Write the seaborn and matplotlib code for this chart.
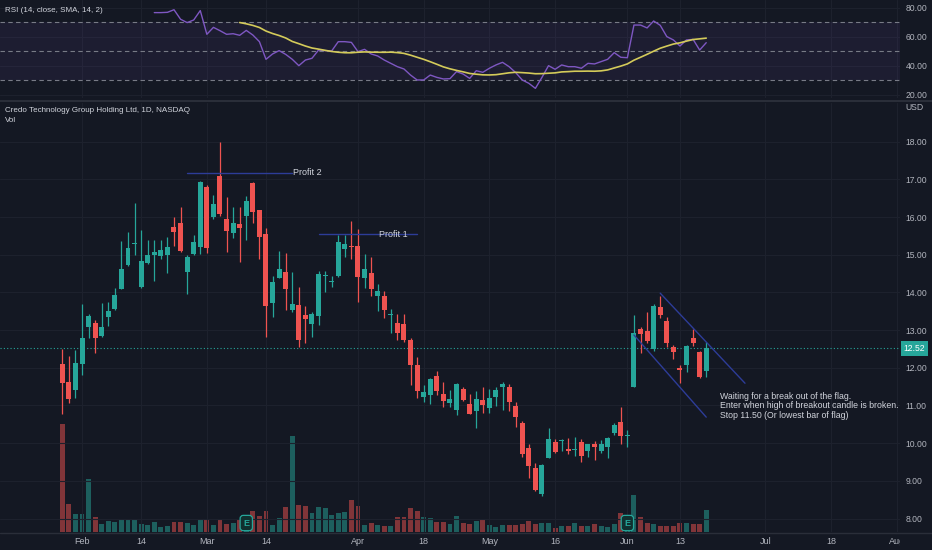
import numpy as np
import pandas as pd
import matplotlib.pyplot as plt
import seaborn as sns
from matplotlib.lines import Line2D
from matplotlib.transforms import Bbox, TransformedBbox, blended_transform_factory

# ---- data ----
holidays = ['2022-02-21', '2022-04-15', '2022-05-30', '2022-06-20', '2022-07-04']
calendar = pd.bdate_range('2022-01-27', '2022-08-05')
calendar = calendar[~calendar.isin(pd.to_datetime(holidays))]
dates = calendar[calendar <= '2022-06-17']

opens = [12.10, 11.62, 11.41, 12.10, 13.07, 13.20, 12.84, 13.36, 13.55, 14.10,
         14.72, 15.29, 14.15, 14.77, 14.98, 14.97, 14.98, 15.73, 15.85, 14.55,
         15.01, 15.21, 16.79, 15.99, 17.09, 15.94, 15.57, 15.82, 16.03, 16.91,
         16.19, 15.54, 13.71, 14.39, 14.53, 13.54, 13.67, 13.39, 13.16, 13.38,
         14.43, 14.27, 14.44, 15.15, 15.24, 15.23, 14.37, 14.51, 13.90, 13.90,
         13.41, 13.18, 13.16, 12.75, 12.07, 11.23, 11.28, 11.78, 11.30, 11.07,
         10.88, 11.45, 11.04, 10.86, 11.14, 10.94, 11.23, 11.48, 11.48, 10.99,
         10.53, 9.86, 9.35, 8.65, 9.61, 10.02, 10.05, 9.84, 9.82, 10.03,
         9.79, 9.97, 9.79, 9.89, 10.26, 10.55, 10.20, 11.48, 13.03, 12.98,
         12.50, 13.60, 13.25, 12.54, 11.99, 12.07, 12.78, 12.41, 11.92]
highs = [12.50, 12.31, 12.47, 13.69, 13.43, 13.27, 13.73, 13.74, 14.11, 15.36,
         15.61, 16.38, 15.66, 15.39, 15.39, 15.39, 15.46, 15.99, 16.26, 14.98,
         15.52, 16.97, 16.85, 16.58, 18.00, 16.54, 16.26, 16.26, 16.56, 16.94,
         16.20, 15.70, 14.43, 15.10, 15.05, 14.53, 14.15, 13.64, 13.49, 14.57,
         14.58, 14.44, 15.52, 15.52, 15.90, 15.67, 15.02, 14.95, 14.22, 14.05,
         13.57, 13.44, 13.43, 12.80, 12.28, 11.54, 11.72, 11.91, 11.61, 11.41,
         11.59, 11.48, 11.30, 11.38, 11.50, 11.45, 11.50, 11.61, 11.57, 11.10,
         10.60, 9.99, 9.46, 9.45, 10.39, 10.11, 10.10, 10.13, 10.15, 10.10,
         9.99, 10.06, 10.08, 10.17, 10.53, 10.95, 10.35, 13.40, 13.09, 13.47,
         13.69, 13.91, 13.34, 12.60, 12.07, 12.60, 13.03, 12.45, 12.68]
lows = [10.77, 11.06, 11.19, 11.81, 12.78, 12.38, 12.83, 13.11, 13.53, 14.08,
        14.69, 15.00, 14.13, 14.75, 14.31, 14.88, 14.52, 15.23, 15.08, 13.96,
        14.99, 15.02, 15.05, 15.96, 16.03, 15.08, 15.44, 14.82, 15.39, 15.83,
        14.90, 12.83, 13.34, 14.37, 13.54, 13.49, 12.56, 12.65, 12.83, 13.13,
        14.02, 14.15, 14.42, 14.95, 14.88, 13.75, 14.11, 13.90, 13.51, 13.31,
        12.93, 12.74, 12.69, 11.54, 11.19, 11.10, 11.04, 11.28, 10.95, 10.97,
        10.75, 11.13, 10.77, 10.41, 10.81, 10.79, 10.99, 10.88, 10.84, 10.42,
        9.64, 9.07, 8.74, 8.61, 9.61, 9.73, 9.80, 9.71, 9.67, 9.49,
        9.64, 9.54, 9.75, 9.60, 10.22, 9.98, 9.91, 11.48, 12.38, 12.65,
        12.45, 13.31, 12.54, 12.22, 11.60, 11.90, 12.59, 11.72, 11.75]
closes = [11.60, 11.16, 12.12, 12.79, 13.38, 12.79, 13.07, 13.52, 13.92, 14.63,
          15.19, 15.30, 14.84, 14.98, 15.07, 15.13, 15.20, 15.60, 15.10, 14.93,
          15.33, 16.92, 15.19, 16.35, 16.07, 15.64, 15.83, 15.72, 16.43, 16.14,
          15.48, 13.65, 14.28, 14.61, 14.09, 13.69, 12.74, 13.29, 13.42, 14.48,
          14.46, 14.29, 15.33, 15.28, 15.20, 14.40, 14.62, 14.08, 14.05, 13.53,
          13.43, 12.91, 12.74, 12.07, 11.39, 11.37, 11.70, 11.38, 11.13, 11.16,
          11.57, 11.14, 10.77, 11.17, 11.01, 11.21, 11.41, 11.56, 11.08, 10.69,
          9.71, 9.39, 8.76, 9.42, 10.11, 9.76, 10.07, 9.79, 9.85, 9.66,
          9.97, 9.91, 9.98, 10.13, 10.48, 10.19, 10.22, 12.91, 12.89, 12.71,
          13.65, 13.40, 12.65, 12.41, 11.94, 12.59, 12.67, 11.75, 12.52]
# volume, millions (estimated)
volume = [10.77, 2.77, 1.77, 1.77, 5.33, 1.50, 0.77, 1.10, 0.97, 1.23,
          1.23, 1.33, 0.83, 0.70, 1.03, 0.50, 0.57, 0.97, 0.97, 0.90,
          0.67, 1.33, 1.33, 0.70, 1.33, 0.83, 0.93, 1.30, 1.20, 2.07,
          1.57, 2.13, 0.70, 1.43, 2.53, 9.63, 2.67, 2.60, 1.90, 2.47,
          2.43, 1.67, 1.90, 2.00, 3.17, 2.57, 0.73, 0.87, 0.70, 0.63,
          0.63, 1.50, 1.50, 2.40, 2.07, 1.50, 1.43, 0.97, 1.03, 0.77,
          1.60, 0.90, 0.77, 1.07, 1.23, 0.70, 0.50, 0.70, 0.73, 0.73,
          0.83, 1.07, 0.83, 0.90, 0.90, 0.43, 0.60, 0.60, 0.93, 0.57,
          0.57, 0.77, 0.57, 0.50, 0.77, 1.90, 1.00, 3.73, 1.50, 0.93,
          0.77, 0.57, 0.57, 0.57, 0.93, 0.93, 0.83, 0.77, 2.17]
# RSI(14) from the 15th bar on
rsi = [76.8, 76.8, 77.0, 78.8, 72.2, 69.9, 71.7, 78.2, 61.8, 66.6,
       64.3, 61.8, 62.2, 61.1, 64.5, 61.3, 56.7, 44.5, 48.2, 50.5,
       47.9, 44.5, 40.1, 44.0, 45.2, 50.9, 50.5, 50.3, 56.7, 56.7,
       56.2, 49.8, 51.4, 48.2, 46.8, 44.0, 41.7, 39.4, 37.8, 33.6,
       30.2, 30.2, 33.6, 32.0, 30.9, 31.1, 36.0, 34.3, 31.3, 36.6,
       35.5, 38.3, 40.6, 42.4, 39.4, 35.3, 30.2, 27.9, 24.4, 32.0,
       40.1, 37.6, 40.6, 39.4, 39.4, 38.3, 41.7, 41.3, 42.9, 44.5,
       49.1, 45.9, 45.6, 68.2, 68.2, 66.2, 71.0, 68.0, 60.2, 57.9,
       53.7, 57.9, 58.3, 50.9, 56.0]
last_price = 12.52

tick_dates = ['2022-02-01', '2022-02-14', '2022-03-01', '2022-03-14', '2022-04-01',
              '2022-04-18', '2022-05-02', '2022-05-16', '2022-06-01', '2022-06-13',
              '2022-07-01', '2022-07-18', '2022-08-01']
tick_labels = ['Feb', '14', 'Mar', '14', 'Apr', '18', 'May', '16', 'Jun', '13',
               'Jul', '18', 'Aug']
earnings_dates = ['2022-03-09', '2022-06-01']

# drawings: (date, price) pairs
profit2 = (('2022-02-24', 17.17), ('2022-03-18', 17.17))
profit1 = (('2022-03-24', 15.54), ('2022-04-14', 15.54))
flag_top = (('2022-06-08', 13.98), (103.9, 11.59))
flag_bottom = (('2022-06-02', 12.87), ('2022-06-17', 10.69))
note = ("Waiting for a break out of the flag.\n"
        "Enter when high of breakout candle is broken.\n"
        "Stop 11.50 (Or lowest bar of flag)")

# ---- style ----
bg = '#141823'
grid_c = '#1d212d'
text_c = '#d1d4dc'
axis_c = '#b2b5be'
green = '#26a69a'
red = '#ef5350'
draw_c = '#2d3c98'

sns.set_style('dark', {'axes.facecolor': bg, 'figure.facecolor': bg})
plt.rcParams['font.family'] = ['Liberation Sans', 'DejaVu Sans']

def pos(d):
    if isinstance(d, str):
        return calendar.get_loc(pd.Timestamp(d))
    return d

x = np.arange(len(dates))
o = np.array(opens); h = np.array(highs); l = np.array(lows); c = np.array(closes)
up = c >= o
colors = np.where(up, green, red)

W, H = 932, 550
fig = plt.figure(figsize=(W / 100, H / 100), dpi=100)
fig.patch.set_facecolor(bg)
right = 900 / W
ax_rsi = fig.add_axes([0, 1 - 98 / H, right, 98 / H])
ax_vol = fig.add_axes([0, 18 / H, right, (532 - 103) / H])
ax = fig.add_axes([0, 18 / H, right, (532 - 103) / H], sharex=ax_vol)
ax.set_zorder(2)
ax.patch.set_visible(False)

xlim = (-9.48, 127.49)
tick_pos = [pos(d) for d in tick_dates]

for a in (ax_rsi, ax, ax_vol):
    a.set_facecolor(bg)
    for s in a.spines.values():
        s.set_visible(False)
    a.set_xlim(*xlim)

# ---- RSI pane ----
rsi_x = x[len(x) - len(rsi):]
rsi_s = pd.Series(rsi)
sma = rsi_s.rolling(14).mean()
ax_rsi.axhspan(30, 70, color='#7e57c2', alpha=0.09, lw=0, zorder=1)
for lvl in (70, 50, 30):
    ax_rsi.axhline(lvl, color='#787b86', lw=0.8, ls=(0, (4, 3)), zorder=2)
sns.lineplot(x=rsi_x, y=rsi_s.values, ax=ax_rsi, color='#7e57c2', lw=1.0, zorder=4)
sns.lineplot(x=rsi_x, y=sma.values, ax=ax_rsi, color='#d4cb5a', lw=1.2, zorder=5)
ax_rsi.set_ylim(17.73, 85.53)
ax_rsi.set_xticks(tick_pos)
ax_rsi.set_yticks([20, 40, 60, 80])
ax_rsi.grid(True, color=grid_c, lw=0.8)
ax_rsi.tick_params(axis='x', length=0, labelbottom=False)
ax_rsi.yaxis.tick_right()
ax_rsi.tick_params(axis='y', length=0, pad=4, labelsize=6.2, labelcolor=axis_c)
ax_rsi.set_yticklabels([f'{v:.2f}' for v in (20, 40, 60, 80)])
ax_rsi.set_xlabel(''); ax_rsi.set_ylabel('')

# ---- volume ----
ax_vol.bar(x, volume, width=0.75, color=colors, alpha=0.5, lw=0)
ax_vol.set_ylim(0, 42.9)
ax_vol.set_yticks([])
ax_vol.tick_params(axis='x', length=0, labelbottom=False)
ax_vol.grid(False)

# ---- price pane ----
ax.set_ylim(7.642, 19.027)
ax.set_xticks(tick_pos)
ax.set_xticklabels(tick_labels)
ax.set_yticks(range(8, 19))
ax.set_yticklabels([f'{v:.2f}' for v in range(8, 19)])
ax.yaxis.tick_right()
ax.tick_params(axis='y', length=0, pad=4, labelsize=6.2, labelcolor=axis_c)
ax.tick_params(axis='x', length=0, pad=3.5, labelsize=6.5, labelcolor=axis_c)
ax.grid(True, color=grid_c, lw=0.8, zorder=0)
ax.set_axisbelow(True)

ax.vlines(x, l, h, colors=colors, lw=0.9, zorder=3)
ax.bar(x, np.maximum(np.abs(c - o), 0.025), bottom=np.minimum(o, c), width=0.76,
       color=colors, lw=0, zorder=4)

ax.axhline(last_price, color=green, lw=0.8, ls=(0, (1, 2)), zorder=2)
ax.text(1.004, last_price, f'{last_price:.2f}', transform=blended_transform_factory(ax.transAxes, ax.transData),
        ha='left', va='center', fontsize=6.2, color='white', clip_on=False,
        bbox=dict(boxstyle='square,pad=0.35', fc=green, ec='none'))

# drawings
for (d0, p0), (d1, p1) in (profit2, profit1, flag_top, flag_bottom):
    ax.plot([pos(d0), pos(d1)], [p0, p1], color=draw_c, lw=1.0, zorder=5)
ax.text(pos(profit2[1][0]) + 0.1, profit2[0][1], 'Profit 2', color=text_c, fontsize=6.5,
        va='center', ha='left', zorder=6)
ax.text(48.2, profit1[0][1], 'Profit 1', color=text_c, fontsize=6.5,
        va='center', ha='left', zorder=6)
ax.text(100.1, 11.37, note, color=text_c, fontsize=6.3, va='top', ha='left',
        linespacing=1.1, zorder=6)

for d in earnings_dates:
    ax.text(pos(d), 7.88, 'E', color=green, fontsize=6.5, ha='center', va='center',
            fontweight='bold', zorder=6,
            bbox=dict(boxstyle='round,pad=0.35', fc='#10302f', ec=green, lw=0.9))

# cut the last date label at the price scale
last_lbl = ax.get_xticklabels()[-1]
last_lbl.set_clip_on(True)
last_lbl.set_clip_box(TransformedBbox(Bbox.from_extents(0, 0, right, 1), fig.transFigure))

# headers
fig.text(5 / W, 1 - 11 / H, 'RSI (14, close, SMA, 14, 2)', color=text_c, fontsize=5.8, va='center')
fig.text(5 / W, 1 - 110 / H, 'Credo Technology Group Holding Ltd, 1D, NASDAQ', color=text_c,
         fontsize=5.8, va='center')
fig.text(5 / W, 1 - 120.5 / H, 'Vol', color=text_c, fontsize=5.8, va='center')
fig.text(905 / W, 1 - 107 / H, 'USD', color=axis_c, fontsize=6.2, va='center')

fig.add_artist(Line2D([0, 1], [1 - 100.5 / H] * 2, color='#2a2e39', lw=1.5))
fig.add_artist(Line2D([0, 1], [1 - 533 / H] * 2, color='#2a2e39', lw=1.0))

fig.savefig('out.png', dpi=100, facecolor=bg)
